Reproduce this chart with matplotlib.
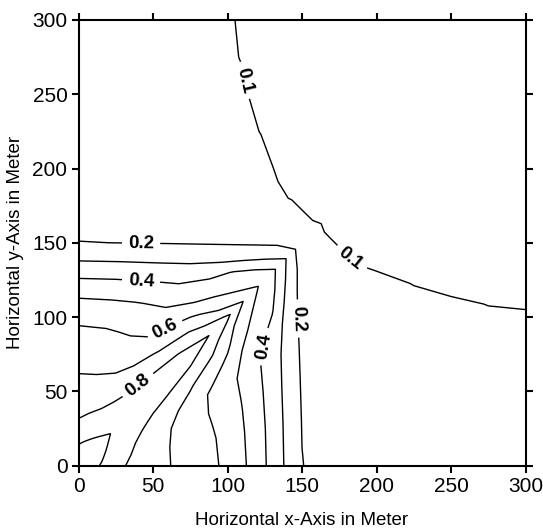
import numpy as np
import matplotlib
matplotlib.use("Agg")
import matplotlib.pyplot as plt

plt.rcParams['font.family'] = ['Liberation Sans', 'DejaVu Sans']

# ring_radius = max(x, y) of the ring (m); arm_fraction = position along an arm,
# from the axis (0) to the diagonal corner (1).
ring_radius = [0, 15, 30, 45, 60, 75, 90, 100, 110, 120, 130, 140, 150,
               165, 180, 200, 225, 250, 275, 300]
arm_fraction = [0.0, 0.2, 0.4, 0.55, 0.7, 0.8, 0.9, 1.0]

# upper arm: points (f*r, r), from the y-axis to the diagonal corner
upper_arm_values = [
    [0.98, 0.98, 0.98, 0.98, 0.98, 0.98, 0.98, 0.98],
    [0.895, 0.905, 0.912, 0.917, 0.921, 0.924, 0.927, 0.93],
    [0.805, 0.82, 0.835, 0.843, 0.85, 0.853, 0.857, 0.86],
    [0.76, 0.762, 0.772, 0.792, 0.813, 0.825, 0.838, 0.85],
    [0.705, 0.704, 0.708, 0.731, 0.774, 0.802, 0.822, 0.84],
    [0.665, 0.657, 0.654, 0.665, 0.709, 0.755, 0.805, 0.825],
    [0.618, 0.611, 0.588, 0.581, 0.637, 0.688, 0.738, 0.795],
    [0.575, 0.563, 0.543, 0.538, 0.581, 0.617, 0.643, 0.72],
    [0.52, 0.51, 0.496, 0.479, 0.497, 0.522, 0.547, 0.605],
    [0.445, 0.442, 0.43, 0.417, 0.44, 0.459, 0.48, 0.505],
    [0.37, 0.364, 0.353, 0.346, 0.369, 0.407, 0.425, 0.43],
    [0.28, 0.276, 0.27, 0.268, 0.268, 0.274, 0.285, 0.29],
    [0.202, 0.199, 0.196, 0.193, 0.19, 0.187, 0.182, 0.13],
    [0.175, 0.172, 0.165, 0.156, 0.142, 0.125, 0.1056, 0.095],
    [0.165, 0.157, 0.145, 0.133, 0.109, 0.098, 0.087, 0.08],
    [0.155, 0.148, 0.133, 0.116, 0.093, 0.083, 0.077, 0.072],
    [0.145, 0.138, 0.119, 0.0984, 0.082, 0.074, 0.068, 0.062],
    [0.135, 0.128, 0.107, 0.088, 0.075, 0.068, 0.06, 0.052],
    [0.13, 0.121, 0.099, 0.082, 0.07, 0.062, 0.054, 0.047],
    [0.125, 0.115, 0.095, 0.078, 0.065, 0.057, 0.05, 0.042],
]

# lower arm: points (r, f*r), from next to the diagonal down to the x-axis
lower_arm_values = [
    [0.98, 0.98, 0.98, 0.98, 0.98, 0.98, 0.98],
    [0.927, 0.924, 0.921, 0.917, 0.912, 0.905, 0.895],
    [0.857, 0.853, 0.85, 0.843, 0.835, 0.82, 0.805],
    [0.838, 0.825, 0.813, 0.792, 0.772, 0.762, 0.76],
    [0.822, 0.802, 0.774, 0.731, 0.708, 0.704, 0.705],
    [0.805, 0.755, 0.709, 0.665, 0.654, 0.657, 0.665],
    [0.738, 0.688, 0.637, 0.581, 0.588, 0.611, 0.618],
    [0.643, 0.617, 0.581, 0.538, 0.543, 0.563, 0.575],
    [0.547, 0.522, 0.497, 0.479, 0.496, 0.51, 0.52],
    [0.48, 0.459, 0.44, 0.417, 0.43, 0.442, 0.445],
    [0.425, 0.407, 0.369, 0.346, 0.353, 0.364, 0.37],
    [0.285, 0.274, 0.268, 0.268, 0.27, 0.276, 0.28],
    [0.16, 0.165, 0.172, 0.183, 0.19, 0.197, 0.202],
    [0.1056, 0.125, 0.142, 0.156, 0.165, 0.172, 0.175],
    [0.087, 0.098, 0.109, 0.133, 0.145, 0.157, 0.165],
    [0.077, 0.083, 0.093, 0.116, 0.133, 0.148, 0.155],
    [0.068, 0.074, 0.082, 0.0984, 0.119, 0.138, 0.145],
    [0.06, 0.068, 0.075, 0.088, 0.107, 0.128, 0.135],
    [0.054, 0.062, 0.07, 0.082, 0.099, 0.121, 0.13],
    [0.05, 0.057, 0.065, 0.078, 0.095, 0.115, 0.125],
]

labelled_levels = [0.1, 0.2, 0.4, 0.6, 0.8]
unlabelled_levels = [0.3, 0.5, 0.7, 0.9]
tick_values = [0, 50, 100, 150, 200, 250, 300]

# ---- build the ring mesh ----
r = np.asarray(ring_radius, float)[:, None]
f_up = np.asarray(arm_fraction, float)[None, :]
f_low = np.asarray(arm_fraction[:-1][::-1], float)[None, :]
X = np.hstack([f_up * r, np.repeat(r, f_low.shape[1], axis=1)])
Y = np.hstack([np.repeat(r, f_up.shape[1], axis=1), f_low * r])
Z = np.hstack([np.asarray(upper_arm_values), np.asarray(lower_arm_values)])

fig = plt.figure(figsize=(5.43, 5.29), dpi=100)
ax = fig.add_axes([0.1446, 0.12, 0.8232, 0.8422])

ax.contour(X, Y, Z, levels=unlabelled_levels, colors='black', linewidths=1.0)
cs = ax.contour(X, Y, Z, levels=labelled_levels, colors='black', linewidths=1.0)

label_spots = [(42, 150), (148, 99), (42, 125), (125, 80), (59, 90),
               (40, 54), (110, 259), (183, 140)]
labels = ax.clabel(cs, manual=label_spots, fmt='%.1f',
                   fontsize=13.5, inline=True, inline_spacing=6)
for t in labels:
    t.set_fontweight('bold')

ax.set_xlim(0, 300)
ax.set_ylim(0, 300)
ax.set_xticks(tick_values)
ax.set_yticks(tick_values)
ax.tick_params(direction='out', length=5, width=1.5, labelsize=15,
               top=True, right=True, labeltop=False, labelright=False, pad=3)
for sp in ax.spines.values():
    sp.set_linewidth(1.5)

ax.set_xlabel('Horizontal x-Axis in Meter', fontsize=13.5, labelpad=12)
ax.set_ylabel('Horizontal y-Axis in Meter', fontsize=13.5, labelpad=6)

fig.savefig('out.png', dpi=100)
